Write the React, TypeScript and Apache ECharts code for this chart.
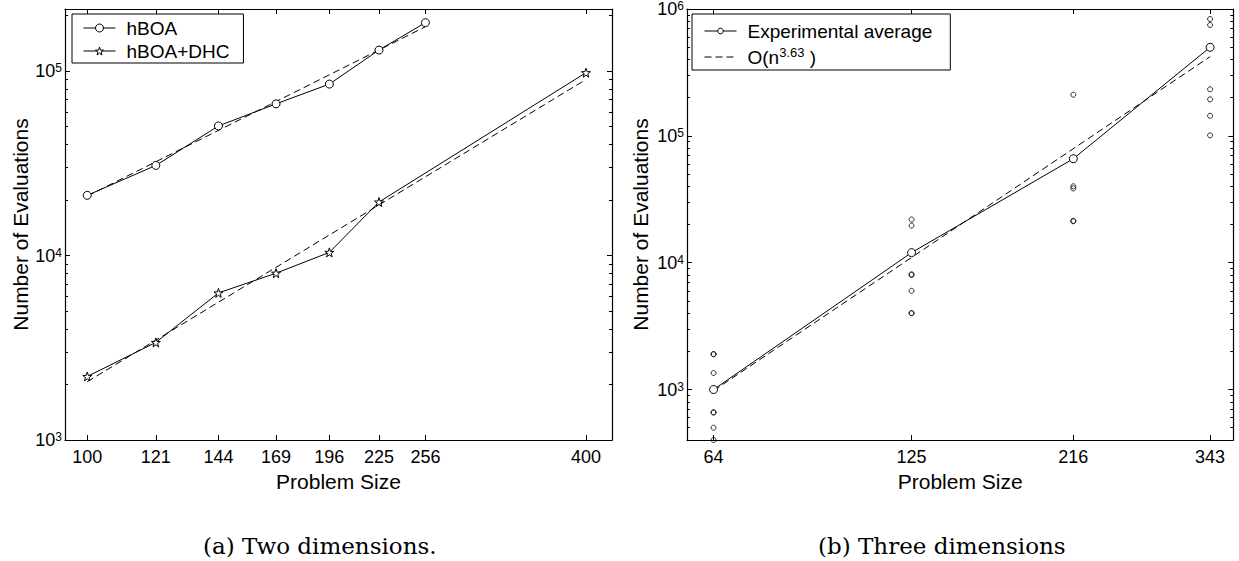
import React, { useEffect, useRef } from "react";
import * as echarts from "echarts";

// ---------- data: (a) two dimensions ----------
const xTicks2D = [100, 121, 144, 169, 196, 225, 256, 400];
const hboaSizes = [100, 121, 144, 169, 196, 225, 256];
const hboaEvals = [21200, 30800, 50400, 66400, 85000, 130000, 183000];
const dhcSizes = [100, 121, 144, 169, 196, 225, 400];
const dhcEvals = [2210, 3380, 6270, 8020, 10400, 19500, 98000];
const hboaFitSizes = [100, 256];
const hboaFitEvals = [21000, 174000];
const dhcFitSizes = [100, 400];
const dhcFitEvals = [2070, 90000];
const yMajor2D = [1000, 10000, 100000];
const xRange2D = [94, 430];
const yRange2D = [1000, 217000];

// ---------- data: (b) three dimensions ----------
const xTicks3D = [64, 125, 216, 343];
const avgSizes3D = [64, 125, 216, 343];
const avgEvals3D = [1000, 12000, 66000, 499000];
const fitSizes3D = [64, 343];
const fitEvals3D = [980, 421000];
const runs64 = [1900, 1900, 1350, 660, 660, 500, 400];
const runs125 = [21900, 19600, 8100, 8000, 6000, 4000, 4000];
const runs216 = [211000, 40000, 38500, 21400, 21200];
const runs343 = [834000, 748000, 233000, 194000, 144000, 101000];
const yMajor3D = [1000, 10000, 100000, 1000000];
const xRange3D = [58.5, 371];
const yRange3D = [400, 1000000];

const FONT = "Liberation Sans, Arial, Helvetica, sans-serif";
const SERIF = "DejaVu Serif, Liberation Serif, serif";
const STAR =
  "path://M50,0L61.8,35.1L97.6,35.1L68.8,56.8L79.4,90.9L50,69.6L20.6,90.9L31.2,56.8L2.4,35.1L38.2,35.1Z";

const lg = (v: number) => Math.log10(v);
const zip = (a: number[], b: number[]) => a.map((v, i) => [v, b[i]]);

function minorTicks(min: number, max: number): number[] {
  const out: number[] = [];
  for (let k = Math.floor(lg(min)); k <= Math.ceil(lg(max)); k++) {
    for (let m = 2; m <= 9; m++) {
      const v = m * Math.pow(10, k);
      if (v > min && v < max) out.push(lg(v));
    }
  }
  return out;
}

const axisLineStyle = { color: "#000", width: 1.2 };
const tickLineStyle = { color: "#000", width: 1 };

function panelAxes(
  gridIndex: number,
  xr: number[],
  yr: number[],
  xTicks: number[],
  yMajor: number[],
  yNameGap: number
) {
  const xl = [lg(xr[0]), lg(xr[1])];
  const yl = [lg(yr[0]), lg(yr[1])];
  const xt = xTicks.map(lg);
  const ym = yMajor.map(lg);
  const yMinor = minorTicks(yr[0], yr[1]);
  const xAxes = [
    { gridIndex, type: "log", position: "bottom", min: xr[0], max: xr[1], show: false },
    {
      gridIndex,
      type: "value",
      position: "bottom",
      min: xl[0],
      max: xl[1],
      splitLine: { show: false },
      axisLine: { show: true, onZero: false, lineStyle: axisLineStyle },
      axisTick: { show: true, inside: true, length: 5, customValues: xt, lineStyle: tickLineStyle },
      axisLabel: {
        customValues: xt,
        formatter: (v: number) => String(Math.round(Math.pow(10, v))),
        fontSize: 18,
        fontFamily: FONT,
        color: "#000",
        margin: 8,
      },
      name: "Problem Size",
      nameLocation: "middle",
      nameGap: 26,
      nameTextStyle: { fontSize: 21, fontFamily: FONT, color: "#000" },
    },
    {
      gridIndex,
      type: "value",
      position: "top",
      min: xl[0],
      max: xl[1],
      splitLine: { show: false },
      axisLine: { show: true, onZero: false, lineStyle: axisLineStyle },
      axisTick: { show: true, inside: true, length: 5, customValues: xt, lineStyle: tickLineStyle },
      axisLabel: { show: false },
    },
  ];
  const base = (position: string) => ({
    gridIndex,
    type: "value",
    position,
    min: yl[0],
    max: yl[1],
    splitLine: { show: false },
  });
  const yAxes = [
    { gridIndex, type: "log", position: "left", min: yr[0], max: yr[1], show: false },
    {
      ...base("left"),
      axisLine: { show: true, onZero: false, lineStyle: axisLineStyle },
      axisTick: { show: true, inside: true, length: 5, customValues: ym, lineStyle: tickLineStyle },
      axisLabel: {
        customValues: ym,
        formatter: (v: number) => `{b|10}{s|${Math.round(v)}}`,
        margin: 3,
        color: "#000",
        rich: {
          b: { fontSize: 18, fontFamily: FONT, color: "#000", lineHeight: 18, padding: [5, 0, 5, 0] },
          s: { fontSize: 12, fontFamily: FONT, color: "#000", lineHeight: 12, verticalAlign: "top" },
        },
      },
      name: "Number of Evaluations",
      nameLocation: "middle",
      nameRotate: 90,
      nameGap: yNameGap,
      nameTextStyle: { fontSize: 21, fontFamily: FONT, color: "#000" },
    },
    {
      ...base("left"),
      axisLine: { show: false, onZero: false },
      axisTick: { show: true, inside: true, length: 3, customValues: yMinor, lineStyle: tickLineStyle },
      axisLabel: { show: false },
    },
    {
      ...base("right"),
      axisLine: { show: true, onZero: false, lineStyle: axisLineStyle },
      axisTick: { show: true, inside: true, length: 5, customValues: ym, lineStyle: tickLineStyle },
      axisLabel: { show: false },
    },
    {
      ...base("right"),
      axisLine: { show: false, onZero: false },
      axisTick: { show: true, inside: true, length: 3, customValues: yMinor, lineStyle: tickLineStyle },
      axisLabel: { show: false },
    },
  ];
  return { xAxes, yAxes };
}

const markerStyle = { color: "#fff", borderColor: "#000", borderWidth: 1 };
const solidLine = { color: "#000", width: 1 };
const dashLine = { color: "#000", width: 1, type: [7, 4] };

export default function App() {
  const ref = useRef<HTMLDivElement>(null);
  useEffect(() => {
    if (!ref.current) return;
    const chart = echarts.init(ref.current, null, { renderer: "svg" });
    const p1 = panelAxes(0, xRange2D, yRange2D, xTicks2D, yMajor2D, 33);
    const p2 = panelAxes(1, xRange3D, yRange3D, xTicks3D, yMajor3D, 36);
    const runSeriesData = [
      ...runs64.map((v) => [64, v]),
      ...runs125.map((v) => [125, v]),
      ...runs216.map((v) => [216, v]),
      ...runs343.map((v) => [343, v]),
    ];
    const legendText = { fontSize: 19, fontFamily: FONT, color: "#000", lineHeight: 20, padding: [0, 0, 0, 6] };
    const legendCommon = {
      orient: "vertical",
      top: 14,
      itemWidth: 32,
      itemGap: 3,
      borderColor: "#000",
      borderWidth: 1,
      borderRadius: 0,
      backgroundColor: "#fff",
      selectedMode: false,
      lineStyle: { width: 1 },
      itemStyle: { borderWidth: 1 },
    };
    chart.setOption({
      animation: false,
      backgroundColor: "#fff",
      grid: [
        { left: 65, top: 9, width: 547, height: 431, outerBoundsMode: "none", containLabel: false },
        { left: 687, top: 9, width: 546.3, height: 431, outerBoundsMode: "none", containLabel: false },
      ],
      xAxis: [...p1.xAxes, ...p2.xAxes],
      yAxis: [...p1.yAxes, ...p2.yAxes],
      legend: [
        {
          ...legendCommon,
          data: ["hBOA", "hBOA+DHC"],
          left: 72,
          itemHeight: 10,
          padding: [4, 14, 2, 11],
          textStyle: legendText,
        },
        {
          ...legendCommon,
          data: [
            "Experimental average",
            { name: "O(n^3.63 )", itemStyle: { color: "rgba(0,0,0,0)", borderColor: "rgba(0,0,0,0)", opacity: 0 } },
          ],
          left: 692,
          itemHeight: 7,
          padding: [6, 18, 1, 12],
          formatter: (name: string) =>
            name === "O(n^3.63 )" ? "{n|O(n}{sup|3.63}{n| )}" : name,
          textStyle: {
            ...legendText,
            lineHeight: 22,
            rich: {
              n: { fontSize: 19, fontFamily: FONT, color: "#000", lineHeight: 22, padding: [3, 0, 2, 0] },
              sup: { fontSize: 13, fontFamily: FONT, color: "#000", lineHeight: 13, verticalAlign: "top" },
            },
          },
        },
      ],
      series: [
        {
          type: "line",
          name: "hBOA fit",
          xAxisIndex: 0,
          yAxisIndex: 0,
          data: zip(hboaFitSizes, hboaFitEvals),
          symbol: "none",
          lineStyle: dashLine,
          z: 2,
        },
        {
          type: "line",
          name: "hBOA+DHC fit",
          xAxisIndex: 0,
          yAxisIndex: 0,
          data: zip(dhcFitSizes, dhcFitEvals),
          symbol: "none",
          lineStyle: dashLine,
          z: 2,
        },
        {
          type: "line",
          name: "hBOA",
          xAxisIndex: 0,
          yAxisIndex: 0,
          data: zip(hboaSizes, hboaEvals),
          symbol: "circle",
          symbolSize: 8,
          itemStyle: markerStyle,
          lineStyle: solidLine,
          z: 3,
        },
        {
          type: "line",
          name: "hBOA+DHC",
          xAxisIndex: 0,
          yAxisIndex: 0,
          data: zip(dhcSizes, dhcEvals),
          symbol: STAR,
          symbolSize: 9,
          itemStyle: markerStyle,
          lineStyle: solidLine,
          z: 3,
        },
        {
          type: "line",
          name: "O(n^3.63 )",
          xAxisIndex: 3,
          yAxisIndex: 5,
          data: zip(fitSizes3D, fitEvals3D),
          symbol: "none",
          lineStyle: dashLine,
          z: 2,
        },
        {
          type: "scatter",
          name: "runs",
          xAxisIndex: 3,
          yAxisIndex: 5,
          data: runSeriesData,
          symbol: "circle",
          symbolSize: 5,
          clip: false,
          itemStyle: { color: "rgba(0,0,0,0)", borderColor: "#000", borderWidth: 1 },
          z: 3,
        },
        {
          type: "line",
          name: "Experimental average",
          xAxisIndex: 3,
          yAxisIndex: 5,
          data: zip(avgSizes3D, avgEvals3D),
          symbol: "circle",
          symbolSize: 8,
          itemStyle: markerStyle,
          lineStyle: solidLine,
          z: 3,
        },
      ],
      graphic: [
        {
          type: "text",
          x: 203,
          y: 546,
          style: {
            text: "(a) Two dimensions.",
            fontSize: 23,
            fontFamily: SERIF,
            fill: "#000",
            align: "left",
            verticalAlign: "middle",
          },
        },
        {
          type: "text",
          x: 818,
          y: 546,
          style: {
            text: "(b) Three dimensions",
            fontSize: 23,
            fontFamily: SERIF,
            fill: "#000",
            align: "left",
            verticalAlign: "middle",
          },
        },
      ],
    });
    return () => chart.dispose();
  }, []);
  return (
    <div
      ref={ref}
      style={{ position: "fixed", left: 0, top: 0, width: 1239, height: 561, background: "#fff" }}
    />
  );
}
